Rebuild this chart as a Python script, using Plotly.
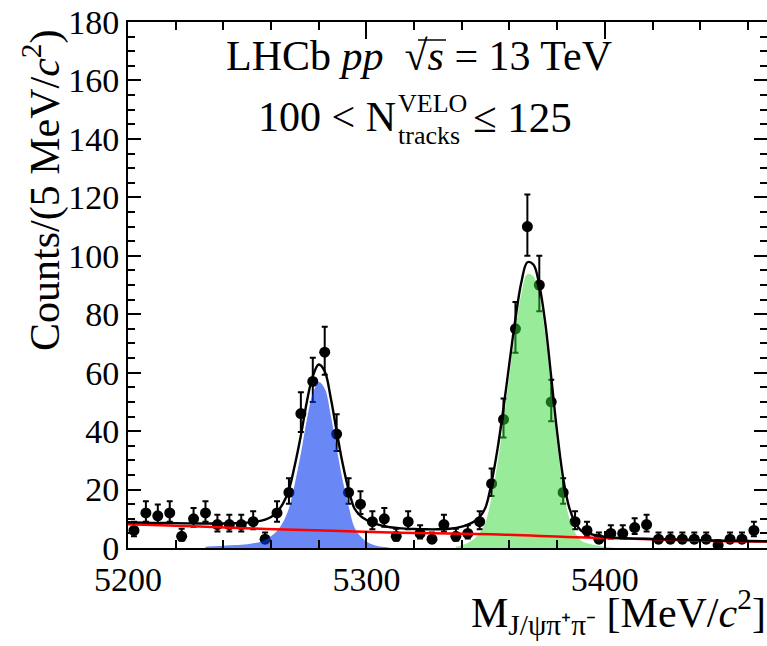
import numpy as np
import plotly.graph_objects as go

# ---- binned data: J/psi pi+ pi- invariant mass, 5 MeV bins ----
bin_centers = np.arange(5202.5, 5465.0, 5.0)
counts = [6, 12, 11, 12, 4, 10, 12, 8, 8, 8,
          9, 3, 12, 19, 46, 57, 67, 39, 19, 15,
          9, 10, 4, 9, 5, 3, 8, 4, 5, 9,
          22, 44, 75, 110, 90, 50, 19, 9, 6, 3,
          5, 5, 7, 8, 3, 3, 3, 3, 3, 1,
          3, 3, 6]

# ---- fit components ----
total_mass = [5200, 5210, 5220, 5230, 5240, 5245, 5250, 5255, 5257.5, 5260,
              5262.5, 5265, 5267.5, 5270, 5272.5, 5275, 5277.5, 5280, 5282.5, 5285,
              5287.5, 5290, 5292.5, 5295, 5297.5, 5300, 5302.5, 5305, 5310, 5315,
              5320, 5325, 5330, 5335, 5340, 5342.5, 5345, 5347.5, 5350, 5352.5,
              5355, 5357.5, 5360, 5362.5, 5365, 5367.5, 5370, 5372.5, 5375, 5377.5,
              5380, 5382.5, 5385, 5387.5, 5390, 5392.5, 5395, 5400, 5410, 5420,
              5430, 5440, 5450, 5460, 5468]
total_fit = [8.8, 8.6, 8.5, 8.4, 8.4, 8.5, 8.7, 9.2, 9.7, 10.6,
             12.4, 15.2, 20.0, 28.5, 38.5, 50.0, 58.8, 62.8, 60.5, 51.5,
             40.0, 29.0, 20.0, 13.5, 11.0, 9.6, 8.6, 8.0, 7.1, 6.7,
             6.5, 6.4, 6.4, 6.6, 7.3, 8.0, 9.0, 10.6, 14.0, 22.5,
             34.0, 48.0, 63.5, 78.5, 91.0, 97.8, 97.0, 90.0, 77.0, 58.5,
             39.5, 24.0, 14.0, 8.8, 6.0, 5.1, 4.6, 3.8, 3.3, 3.1,
             2.9, 2.7, 2.5, 2.4, 2.3]

bkg_mass = [5200, 5230, 5258, 5286, 5314, 5352, 5384, 5404, 5420, 5442, 5468]
bkg_fit = [8.1, 7.4, 6.5, 5.9, 5.2, 4.7, 3.8, 3.3, 3.0, 2.5, 2.2]

b0_mass = np.arange(5232.5, 5310.1, 2.5)
b0_fit = [0.4, 0.6, 0.7, 0.8, 0.9, 1.0, 1.1, 1.3, 1.6, 2.0,
          2.8, 4.0, 5.8, 8.8, 13.6, 22.2, 32.3, 43.9, 52.8, 56.8,
          54.6, 45.6, 34.2, 23.3, 14.4, 7.0, 4.0, 2.2, 1.2, 0.6,
          0.3, 0.0]

bs_mass = np.arange(5337.5, 5405.1, 2.5)
bs_fit = [0.4, 0.9, 1.7, 3.0, 5.2, 9.0, 17.6, 29.3, 43.4, 59.3,
          74.4, 87.0, 93.8, 93.0, 86.1, 73.1, 54.7, 35.7, 20.3, 10.4,
          5.3, 2.6, 1.6, 1.1, 0.7, 0.4, 0.2, 0.0]

x_range = [5200, 5468]
y_range = [0, 180]

# Poisson-style asymmetric errors on the counts
n = np.array(counts, dtype=float)
err_up = 0.5 + np.sqrt(n + 0.25)
err_dn = np.sqrt(n + 0.25) - 0.5

FONT = "Liberation Serif"

fig = go.Figure()

fig.add_trace(go.Scatter(
    x=bin_centers, y=counts, mode="markers",
    marker=dict(color="black", size=11),
    error_y=dict(type="data", symmetric=False, array=err_up, arrayminus=err_dn,
                 color="black", thickness=2, width=3),
    showlegend=False, hoverinfo="skip"))

fig.add_trace(go.Scatter(
    x=b0_mass, y=b0_fit, mode="lines", line=dict(width=0, shape="spline"),
    fill="tozeroy", fillcolor="rgba(5,55,238,0.6)",
    showlegend=False, hoverinfo="skip"))

fig.add_trace(go.Scatter(
    x=bs_mass, y=bs_fit, mode="lines", line=dict(width=0, shape="spline"),
    fill="tozeroy", fillcolor="rgba(50,215,50,0.5)",
    showlegend=False, hoverinfo="skip"))

fig.add_trace(go.Scatter(
    x=bkg_mass, y=bkg_fit, mode="lines", yaxis="y2",
    line=dict(color="red", width=2.5, shape="spline"),
    showlegend=False, hoverinfo="skip"))

fig.add_trace(go.Scatter(
    x=total_mass, y=total_fit, mode="lines", yaxis="y2",
    line=dict(color="black", width=2.4, shape="spline"),
    showlegend=False, hoverinfo="skip"))

L, R, T, B = 128, 0, 22, 98
W, H = 767, 646
pw, ph = W - L - R, H - T - B


def px(x):
    return (x - L) / pw


def py(y):
    return (H - B - y) / ph


tick_font = dict(family=FONT, size=34, color="black")

fig.update_layout(
    width=W, height=H,
    margin=dict(l=L, r=R, t=T, b=B, pad=0),
    paper_bgcolor="white", plot_bgcolor="white",
    xaxis=dict(range=x_range, showgrid=False, zeroline=False,
               showline=True, linecolor="black", linewidth=2, mirror="ticks",
               ticks="inside", ticklen=17, tickwidth=2, tickcolor="black",
               tick0=5200, dtick=100, tickfont=tick_font,
               minor=dict(ticks="inside", ticklen=8, tickwidth=2,
                          tickcolor="black", dtick=20, showgrid=False)),
    yaxis=dict(range=y_range, showgrid=False, zeroline=False,
               showline=True, linecolor="black", linewidth=2,
               ticks="inside", ticklen=13, tickwidth=2, tickcolor="black",
               tick0=0, dtick=20, tickfont=tick_font,
               minor=dict(ticks="inside", ticklen=7, tickwidth=2,
                          tickcolor="black", dtick=5, showgrid=False)),
    yaxis2=dict(range=y_range, overlaying="y", side="right", showgrid=False,
                zeroline=False, showline=False, showticklabels=False,
                ticks="inside", ticklen=13, tickwidth=2, tickcolor="black",
                tick0=0, dtick=20,
                minor=dict(ticks="inside", ticklen=7, tickwidth=2,
                           tickcolor="black", dtick=5, showgrid=False)),
)

ann = []
# y-axis title
ann.append(dict(text="Counts/(5 MeV/<i>c</i><sup>2</sup>)", textangle=-90,
                x=px(42), y=py(190), xref="paper", yref="paper",
                xanchor="center", yanchor="middle", showarrow=False,
                font=dict(family=FONT, size=42, color="black")))
# x-axis title
ann.append(dict(text="M<sub>J/ψπ⁺π⁻</sub> [MeV/<i>c</i><sup>2</sup>]",
                x=px(768), y=py(612), xref="paper", yref="paper",
                xanchor="right", yanchor="middle", showarrow=False,
                font=dict(family=FONT, size=42, color="black")))
# experiment label
ann.append(dict(text="LHCb <i>pp</i>  √<i>s</i> = 13 TeV",
                x=px(419), y=py(56), xref="paper", yref="paper",
                xanchor="center", yanchor="middle", showarrow=False,
                font=dict(family=FONT, size=42, color="black")))
# multiplicity selection
ann.append(dict(text="100 &lt; N", x=px(398), y=py(117), xref="paper", yref="paper",
                xanchor="right", yanchor="middle", showarrow=False,
                font=dict(family=FONT, size=42, color="black")))
ann.append(dict(text="VELO", x=px(396), y=py(103), xref="paper", yref="paper",
                xanchor="left", yanchor="middle", showarrow=False,
                font=dict(family=FONT, size=26, color="black")))
ann.append(dict(text="tracks", x=px(396), y=py(135), xref="paper", yref="paper",
                xanchor="left", yanchor="middle", showarrow=False,
                font=dict(family=FONT, size=26, color="black")))
ann.append(dict(text="≤ 125", x=px(471), y=py(117), xref="paper", yref="paper",
                xanchor="left", yanchor="middle", showarrow=False,
                font=dict(family=FONT, size=43, color="black")))
fig.update_layout(annotations=ann)

# bar over the s under the radical
fig.add_shape(type="line", xref="paper", yref="paper",
              x0=px(418), x1=px(446), y0=py(40), y1=py(40),
              line=dict(color="black", width=1.5))

fig.write_html("out.html")
